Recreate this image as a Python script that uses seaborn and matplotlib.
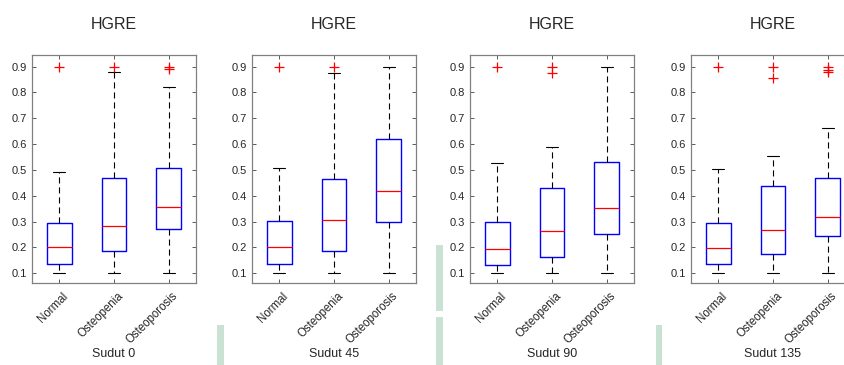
import numpy as np
import pandas as pd
import matplotlib
matplotlib.use("Agg")
import matplotlib.pyplot as plt
import matplotlib.transforms as mtransforms
from matplotlib.patches import Rectangle
import seaborn as sns

# ---- data ----
groups = ["Normal", "Osteopenia", "Osteoporosis"]
panel_labels = ["Sudut 0", "Sudut 45", "Sudut 90", "Sudut 135"]
title = "HGRE"
yticks = [0.1, 0.2, 0.3, 0.4, 0.5, 0.6, 0.7, 0.8, 0.9]

s0_normal = [0.10, 0.11, 0.12, 0.134, 0.16, 0.18, 0.201, 0.23, 0.26, 0.296, 0.38, 0.492, 0.90]
s0_osteopenia = [0.10, 0.13, 0.16, 0.184, 0.22, 0.25, 0.283, 0.33, 0.40, 0.468, 0.62, 0.881, 0.90]
s0_osteoporosis = [0.10, 0.17, 0.23, 0.270, 0.30, 0.33, 0.355, 0.40, 0.45, 0.506, 0.821, 0.892, 0.90]

s45_normal = [0.10, 0.11, 0.12, 0.134, 0.16, 0.18, 0.201, 0.24, 0.27, 0.303, 0.40, 0.506, 0.90]
s45_osteopenia = [0.10, 0.13, 0.16, 0.187, 0.23, 0.27, 0.306, 0.36, 0.41, 0.465, 0.64, 0.875, 0.90]
s45_osteoporosis = [0.10, 0.18, 0.25, 0.300, 0.34, 0.38, 0.420, 0.48, 0.55, 0.619, 0.70, 0.80, 0.90]

s90_normal = [0.10, 0.11, 0.12, 0.130, 0.15, 0.17, 0.193, 0.23, 0.26, 0.299, 0.40, 0.528, 0.90]
s90_osteopenia = [0.10, 0.12, 0.14, 0.161, 0.20, 0.23, 0.263, 0.31, 0.37, 0.429, 0.589, 0.877, 0.90]
s90_osteoporosis = [0.10, 0.16, 0.21, 0.251, 0.29, 0.32, 0.353, 0.41, 0.47, 0.532, 0.65, 0.78, 0.90]

s135_normal = [0.10, 0.11, 0.12, 0.134, 0.15, 0.17, 0.197, 0.23, 0.26, 0.296, 0.40, 0.503, 0.90]
s135_osteopenia = [0.10, 0.12, 0.15, 0.174, 0.21, 0.24, 0.266, 0.32, 0.38, 0.437, 0.555, 0.854, 0.90]
s135_osteoporosis = [0.10, 0.15, 0.19, 0.22, 0.243, 0.26, 0.28, 0.30, 0.317, 0.35, 0.39, 0.43,
                     0.468, 0.661, 0.880, 0.885, 0.90]

panels = [
    [s0_normal, s0_osteopenia, s0_osteoporosis],
    [s45_normal, s45_osteopenia, s45_osteoporosis],
    [s90_normal, s90_osteopenia, s90_osteoporosis],
    [s135_normal, s135_osteopenia, s135_osteoporosis],
]

rows = []
for plabel, series in zip(panel_labels, panels):
    for g, vals in zip(groups, series):
        for v in vals:
            rows.append({"panel": plabel, "group": g, "value": v})
df = pd.DataFrame(rows)

# ---- figure ----
sns.set_theme(style="white")
plt.rcParams["font.family"] = ["Liberation Sans", "DejaVu Sans"]

W, H = 845, 365
fig = plt.figure(figsize=(W / 100, H / 100), dpi=100)

# light green stripes present in the reference image
stripe_color = "#c9e2d3"
for (x0, x1, y0, y1) in [(217, 224, 325, 365), (436, 443, 245, 311), (436, 443, 317, 365),
                         (656, 662, 325, 365)]:
    fig.add_artist(Rectangle((x0 / W, 1 - y1 / H), (x1 - x0) / W, (y1 - y0) / H,
                             transform=fig.transFigure, color=stripe_color, lw=0, zorder=0))

lefts = [32, 252, 470, 691]
ax_w = 164
ax_top, ax_bot = 55, 283
shift = mtransforms.ScaledTranslation(3 / 100, 0, fig.dpi_scale_trans)

for i, plabel in enumerate(panel_labels):
    ax = fig.add_axes([lefts[i] / W, 1 - ax_bot / H, ax_w / W, (ax_bot - ax_top) / H])
    sub = df[df["panel"] == plabel]
    sns.boxplot(
        data=sub, x="group", y="value", order=groups, ax=ax,
        width=0.45, fill=False, color="blue", whis=1.5, linewidth=0.9,
        flierprops=dict(marker="+", markeredgecolor="red", markerfacecolor="red",
                        markersize=7, markeredgewidth=0.9),
        medianprops=dict(color="red", linewidth=0.9),
        whiskerprops=dict(color="black", linestyle=(0, (5.5, 3.5)), linewidth=0.8),
        capprops=dict(color="black", linewidth=0.8),
        boxprops=dict(color="blue", linewidth=1.0),
    )
    ax.set_xlim(-0.5, 2.5)
    ax.set_ylim(0.062, 0.945)
    ax.set_yticks(yticks)
    ax.set_yticklabels([f"{t:.1f}" for t in yticks])
    ax.set_ylabel("")
    ax.set_xlabel(plabel, fontsize=9, color="#262626")
    ax.xaxis.set_label_coords(0.5, -0.285)
    ax.set_title(title, fontsize=11.5, pad=19, color="#262626")
    ax.tick_params(direction="in", bottom=True, left=True, top=True, right=True,
                   labeltop=False, labelright=False,
                   length=3, width=0.6, color="#404040", labelsize=8, labelcolor="#262626")
    ax.tick_params(axis="x", pad=5, labelsize=8.3)
    for lab in ax.get_xticklabels():
        lab.set_rotation(45)
        lab.set_ha("right")
        lab.set_va("top")
        lab.set_rotation_mode("anchor")
        lab.set_transform(lab.get_transform() + shift)
    for sp in ax.spines.values():
        sp.set_visible(True)
        sp.set_color("#808080")
        sp.set_linewidth(0.9)

fig.savefig("out.png", dpi=100)
